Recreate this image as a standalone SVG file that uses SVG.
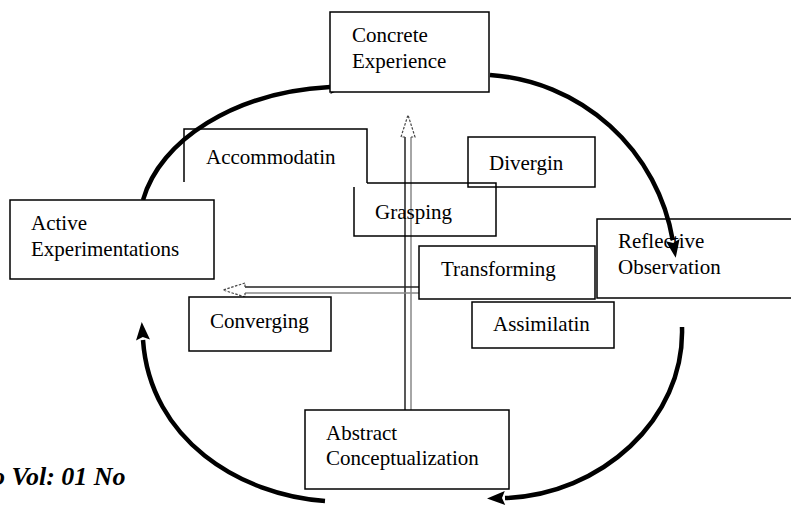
<svg xmlns="http://www.w3.org/2000/svg" width="791" height="505" viewBox="0 0 791 505">
<style>
.box{fill:#fff;stroke:#000;stroke-width:1.5}
.open{fill:none;stroke:#000;stroke-width:1.5}
.lbl{font-family:"Liberation Serif","Times New Roman",serif;font-size:21px;fill:#000}
.arc{fill:none;stroke:#000;stroke-width:4.5}
.shaftA{stroke:#222;stroke-width:1.5;fill:none}
.shaftB{stroke:#888;stroke-width:1.5;fill:none}
.hhead{fill:#fff;stroke:#444;stroke-width:1.2;stroke-dasharray:2.5 1.5}
.foot{font-family:"Liberation Serif","Times New Roman",serif;font-size:26px;font-weight:bold;font-style:italic;fill:#000}
</style>
<defs>
<marker id="ah" markerUnits="userSpaceOnUse" markerWidth="20" markerHeight="14" refX="0" refY="7" orient="auto" overflow="visible">
<path d="M0,0 L18,7 L0,14 L3,7 z" fill="#000"/>
</marker>
<clipPath id="footclip"><rect x="0" y="440" width="128" height="65"/></clipPath>
</defs>
<rect width="791" height="505" fill="#fff"/>
<text class="foot" x="-8" y="485" clip-path="url(#footclip)">o Vol: 01 No</text>
<g id="connectors">
<path class="arc" d="M143,200 C160,140 235,92 330,87" marker-end="url(#ah)"/>
<path class="arc" d="M490,75 A199,199 0 0 1 672.7,240.1" marker-end="url(#ah)"/>
<path class="arc" d="M682,327 C685,420 600,495 505,498" marker-end="url(#ah)"/>
<path class="arc" d="M325,501 C240,495 150,440 143,340" marker-end="url(#ah)"/>
<g id="grasping-axis">
<line class="shaftA" x1="405" y1="137" x2="405" y2="410"/>
<line class="shaftB" x1="411" y1="137" x2="411" y2="410"/>
<path class="hhead" d="M405,137 L401,137 L408,115 L415,137 L411,137"/>
</g>
<g id="transforming-axis">
<line class="shaftA" x1="245" y1="287" x2="419" y2="287"/>
<line class="shaftB" x1="245" y1="293" x2="419" y2="293"/>
<path class="hhead" d="M245,287 L245,283 L223,290 L245,297 L245,293"/>
</g>
</g>
<g id="concrete-experience">
<rect class="box" x="330" y="12" width="159" height="80"/>
<text class="lbl" x="352" y="42">Concrete</text>
<text class="lbl" x="352" y="68">Experience</text>
</g>
<g id="accommodatin">
<path class="open" d="M184,182 V129 H367 V183"/>
<text class="lbl" x="206" y="164">Accommodatin</text>
</g>
<g id="grasping">
<path class="open" d="M367,183 H496 V236 H354 V187"/>
<text class="lbl" x="375" y="219">Grasping</text>
</g>
<g id="divergin">
<rect class="open" x="468" y="137" width="127" height="50"/>
<text class="lbl" x="489" y="170">Divergin</text>
</g>
<g id="active-experimentations">
<rect class="box" x="10" y="200" width="204" height="79"/>
<text class="lbl" x="31" y="230">Active</text>
<text class="lbl" x="31" y="256">Experimentations</text>
</g>
<g id="reflective-observation">
<rect class="open" x="597" y="219" width="210" height="79"/>
<text class="lbl" x="618" y="248">Reflective</text>
<text class="lbl" x="618" y="274">Observation</text>
</g>
<g id="transforming">
<rect class="box" x="419" y="246" width="176" height="53"/>
<text class="lbl" x="441" y="276">Transforming</text>
</g>
<g id="converging">
<rect class="box" x="189" y="297" width="142" height="54"/>
<text class="lbl" x="210" y="328">Converging</text>
</g>
<g id="assimilatin">
<rect class="box" x="472" y="302" width="142" height="46"/>
<text class="lbl" x="493" y="331">Assimilatin</text>
</g>
<g id="abstract-conceptualization">
<rect class="box" x="305" y="410" width="204" height="79"/>
<text class="lbl" x="326" y="440">Abstract</text>
<text class="lbl" x="326" y="465">Conceptualization</text>
</g>
</svg>
